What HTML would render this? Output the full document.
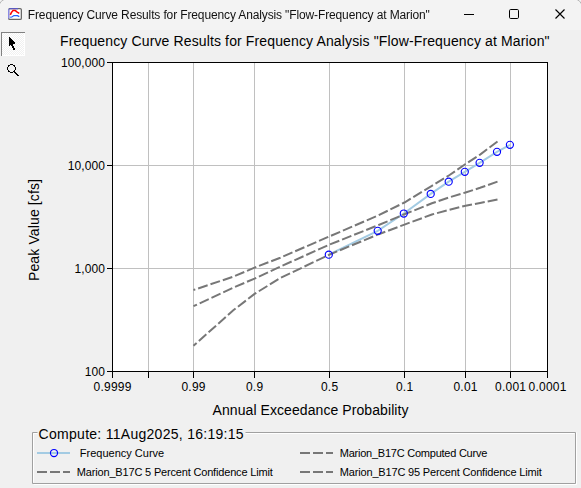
<!DOCTYPE html>
<html><head><meta charset="utf-8"><style>
html,body{margin:0;padding:0;width:581px;height:488px;overflow:hidden;background:#f0f0f0;}
svg{display:block;}
</style></head><body>
<svg width="581" height="488" viewBox="0 0 581 488" shape-rendering="auto">
<defs><filter id="gs" x="0" y="0" width="1" height="1"><feColorMatrix type="identity"/></filter></defs>
<rect x="0" y="0" width="581" height="30" fill="#f3f3f3"/>
<rect x="0" y="30" width="581" height="458" fill="#f0f0f0"/>
<path d="M-1.5,8 A9.5,9.5 0 0 1 8,-1.5" fill="none" stroke="#b4b4b4" stroke-width="1"/>
<path d="M573,-1.5 A9.5,9.5 0 0 1 582.5,8" fill="none" stroke="#b4b4b4" stroke-width="1"/>
<rect x="8.65" y="8.65" width="12.7" height="10.7" rx="1.2" fill="#fff" stroke="#686868" stroke-width="1.3"/>
<path d="M8.65,18.5 L8.65,9.2" fill="none" stroke="#8a8ae6" stroke-width="1.3"/>
<path d="M9.2,8.65 L18,8.65" fill="none" stroke="#5a5ac0" stroke-width="1.3"/>
<polyline points="10.3,14.9 11.6,12.2 13,10.6 15.4,10.6 17.2,12.1 19.3,13.3" fill="none" stroke="#ff0000" stroke-width="1.5" stroke-linejoin="round"/>
<polyline points="10.3,17.4 12.2,16.7 14,15.6 17.4,15.6 19.3,16.6" fill="none" stroke="#2060ff" stroke-width="1.2" stroke-linejoin="round"/>
<text x="27.8" y="18.5" font-family='"Liberation Sans", sans-serif' font-size="12" fill="#111" filter="url(#gs)" textLength="402" lengthAdjust="spacing">Frequency Curve Results for Frequency Analysis "Flow-Frequency at Marion"</text>
<rect x="464" y="14" width="10" height="1" fill="#000"/>
<rect x="509.5" y="9.5" width="9" height="9" rx="1.2" fill="none" stroke="#000" stroke-width="1"/>
<path d="M555.5,9.5 L564.5,18.5 M564.5,9.5 L555.5,18.5" stroke="#000" stroke-width="1.15" fill="none"/>
<defs><pattern id="dith" width="2" height="2" patternUnits="userSpaceOnUse"><rect width="2" height="2" fill="#f0f0f0"/><rect width="1" height="1" fill="#ffffff"/><rect x="1" y="1" width="1" height="1" fill="#ffffff"/></pattern></defs>
<rect x="1" y="32" width="24" height="24" fill="url(#dith)"/>
<rect x="1" y="32" width="24" height="1" fill="#808080"/>
<rect x="1" y="32" width="1" height="24" fill="#808080"/>
<rect x="24" y="33" width="1" height="23" fill="#ffffff"/>
<rect x="2" y="55" width="23" height="1" fill="#ffffff"/>
<g fill="#000" shape-rendering="crispEdges"><rect x="9" y="37" width="1" height="1"/><rect x="9" y="38" width="2" height="1"/><rect x="9" y="39" width="3" height="1"/><rect x="9" y="40" width="4" height="1"/><rect x="9" y="41" width="5" height="1"/><rect x="9" y="42" width="6" height="1"/><rect x="9" y="43" width="6" height="1"/><rect x="9" y="44" width="4" height="1"/><rect x="9" y="45" width="1" height="1"/><rect x="11" y="45" width="2" height="1"/><rect x="12" y="46" width="2" height="1"/><rect x="12" y="47" width="2" height="1"/><rect x="13" y="48" width="2" height="1"/><rect x="13" y="49" width="2" height="1"/></g>
<g fill="#000" shape-rendering="crispEdges"><rect x="10" y="64" width="3" height="1"/><rect x="8" y="65" width="2" height="1"/><rect x="13" y="65" width="2" height="1"/><rect x="8" y="66" width="1" height="1"/><rect x="14" y="66" width="1" height="1"/><rect x="7" y="67" width="1" height="1"/><rect x="15" y="67" width="1" height="1"/><rect x="7" y="68" width="1" height="1"/><rect x="15" y="68" width="1" height="1"/><rect x="7" y="69" width="1" height="1"/><rect x="15" y="69" width="1" height="1"/><rect x="8" y="70" width="1" height="1"/><rect x="14" y="70" width="1" height="1"/><rect x="8" y="71" width="2" height="1"/><rect x="13" y="71" width="2" height="1"/><rect x="10" y="72" width="3" height="1"/><rect x="14" y="72" width="2" height="1"/><rect x="15" y="73" width="2" height="1"/><rect x="16" y="74" width="2" height="1"/><rect x="17" y="75" width="2" height="1"/></g>
<text x="60.1" y="46" font-family='"Liberation Sans", sans-serif' font-size="14" fill="#000" textLength="489.5" lengthAdjust="spacing">Frequency Curve Results for Frequency Analysis "Flow-Frequency at Marion"</text>
<rect x="112" y="62" width="435" height="309" fill="#fff"/>
<rect x="148" y="63" width="1" height="308" fill="#c0c0c0"/>
<rect x="193" y="63" width="1" height="308" fill="#c0c0c0"/>
<rect x="254" y="63" width="1" height="308" fill="#c0c0c0"/>
<rect x="329" y="63" width="1" height="308" fill="#c0c0c0"/>
<rect x="404" y="63" width="1" height="308" fill="#c0c0c0"/>
<rect x="465" y="63" width="1" height="308" fill="#c0c0c0"/>
<rect x="510" y="63" width="1" height="308" fill="#c0c0c0"/>
<rect x="113" y="165" width="434" height="1" fill="#c0c0c0"/>
<rect x="113" y="268" width="434" height="1" fill="#c0c0c0"/>
<clipPath id="pc"><rect x="113" y="63" width="434" height="308"/></clipPath>
<g clip-path="url(#pc)">
<polyline points="328.80,254.70 377.70,230.80 403.80,213.50 430.70,193.90 448.70,181.70 464.80,171.80 479.60,162.80 497.00,151.80 509.90,144.80" fill="none" stroke="#a3cbe3" stroke-width="2"/>
<polyline points="497.50,141.50 480.10,154.60 465.55,164.00 449.60,175.00 431.90,185.80 404.45,202.50 378.70,215.20 329.50,236.40 280.30,257.70 254.55,267.60 233.30,276.70 193.45,290.00" fill="none" stroke="#777" stroke-width="2" stroke-dasharray="10 3"/>
<polyline points="497.50,181.60 480.10,187.80 465.55,192.50 449.60,197.30 431.90,203.30 404.45,214.30 378.70,225.00 329.50,244.60 280.30,266.60 254.55,278.60 233.30,287.60 193.45,306.20" fill="none" stroke="#777" stroke-width="2" stroke-dasharray="10 3"/>
<polyline points="497.50,199.60 480.10,203.00 465.55,205.70 449.60,209.80 431.90,214.50 404.45,224.60 378.70,234.20 329.50,254.60 280.30,278.00 254.55,293.90 233.30,310.30 193.45,345.80" fill="none" stroke="#777" stroke-width="2" stroke-dasharray="10 3"/>
<circle cx="328.8" cy="254.7" r="3.55" fill="none" stroke="#0000ff" stroke-width="1.15"/>
<circle cx="377.7" cy="230.8" r="3.55" fill="none" stroke="#0000ff" stroke-width="1.15"/>
<circle cx="403.8" cy="213.5" r="3.55" fill="none" stroke="#0000ff" stroke-width="1.15"/>
<circle cx="430.7" cy="193.9" r="3.55" fill="none" stroke="#0000ff" stroke-width="1.15"/>
<circle cx="448.7" cy="181.7" r="3.55" fill="none" stroke="#0000ff" stroke-width="1.15"/>
<circle cx="464.8" cy="171.8" r="3.55" fill="none" stroke="#0000ff" stroke-width="1.15"/>
<circle cx="479.6" cy="162.8" r="3.55" fill="none" stroke="#0000ff" stroke-width="1.15"/>
<circle cx="497.0" cy="151.8" r="3.55" fill="none" stroke="#0000ff" stroke-width="1.15"/>
<circle cx="509.9" cy="144.8" r="3.55" fill="none" stroke="#0000ff" stroke-width="1.15"/>
</g>
<rect x="112" y="62" width="436" height="1" fill="#000"/>
<rect x="112" y="371" width="436" height="1" fill="#000"/>
<rect x="112" y="62" width="1" height="310" fill="#000"/>
<rect x="547" y="62" width="1" height="310" fill="#000"/>
<rect x="107" y="62" width="5" height="1" fill="#000"/>
<rect x="107" y="165" width="5" height="1" fill="#000"/>
<rect x="107" y="268" width="5" height="1" fill="#000"/>
<rect x="107" y="371" width="5" height="1" fill="#000"/>
<rect x="112" y="372" width="1" height="6" fill="#000"/>
<rect x="148" y="372" width="1" height="6" fill="#000"/>
<rect x="193" y="372" width="1" height="6" fill="#000"/>
<rect x="254" y="372" width="1" height="6" fill="#000"/>
<rect x="329" y="372" width="1" height="6" fill="#000"/>
<rect x="404" y="372" width="1" height="6" fill="#000"/>
<rect x="465" y="372" width="1" height="6" fill="#000"/>
<rect x="510" y="372" width="1" height="6" fill="#000"/>
<rect x="547" y="372" width="1" height="6" fill="#000"/>
<text x="105.1" y="67.0" text-anchor="end" font-family='"Liberation Sans", sans-serif' font-size="12" letter-spacing="0.12" fill="#000">100,000</text>
<text x="105.1" y="170.0" text-anchor="end" font-family='"Liberation Sans", sans-serif' font-size="12" letter-spacing="0.12" fill="#000">10,000</text>
<text x="105.1" y="273.0" text-anchor="end" font-family='"Liberation Sans", sans-serif' font-size="12" letter-spacing="0.12" fill="#000">1,000</text>
<text x="105.1" y="376.0" text-anchor="end" font-family='"Liberation Sans", sans-serif' font-size="12" letter-spacing="0.12" fill="#000">100</text>
<text x="112.6" y="391.1" text-anchor="middle" font-family='"Liberation Sans", sans-serif' font-size="12" letter-spacing="0.25" fill="#000">0.9999</text>
<text x="193.6" y="391.1" text-anchor="middle" font-family='"Liberation Sans", sans-serif' font-size="12" letter-spacing="0.25" fill="#000">0.99</text>
<text x="254.6" y="391.1" text-anchor="middle" font-family='"Liberation Sans", sans-serif' font-size="12" letter-spacing="0.25" fill="#000">0.9</text>
<text x="329.6" y="391.1" text-anchor="middle" font-family='"Liberation Sans", sans-serif' font-size="12" letter-spacing="0.25" fill="#000">0.5</text>
<text x="404.6" y="391.1" text-anchor="middle" font-family='"Liberation Sans", sans-serif' font-size="12" letter-spacing="0.25" fill="#000">0.1</text>
<text x="465.6" y="391.1" text-anchor="middle" font-family='"Liberation Sans", sans-serif' font-size="12" letter-spacing="0.25" fill="#000">0.01</text>
<text x="510.6" y="391.1" text-anchor="middle" font-family='"Liberation Sans", sans-serif' font-size="12" letter-spacing="0.25" fill="#000">0.001</text>
<text x="547.6" y="391.1" text-anchor="middle" font-family='"Liberation Sans", sans-serif' font-size="12" letter-spacing="0.25" fill="#000">0.0001</text>
<text x="212.5" y="414.5" font-family='"Liberation Sans", sans-serif' font-size="14" fill="#000" textLength="196" lengthAdjust="spacing">Annual Exceedance Probability</text>
<text transform="translate(39.2,281) rotate(-90)" x="0" y="0" font-family='"Liberation Sans", sans-serif' font-size="14" fill="#000" textLength="102" lengthAdjust="spacing">Peak Value [cfs]</text>
<path d="M37.5,432.5 L32.5,432.5 L32.5,483.5 L575.5,483.5 L575.5,432.5 L245.5,432.5" fill="none" stroke="#a0a0a0" stroke-width="1"/>
<path d="M37.5,433.5 L33.5,433.5 L33.5,482.5 M33.5,484.5 L576.5,484.5 L576.5,432.5 M574.5,433.5 L245.5,433.5" fill="none" stroke="#fff" stroke-width="1"/>
<text x="38.6" y="438.5" font-family='"Liberation Sans", sans-serif' font-size="14" fill="#000" textLength="205" lengthAdjust="spacing">Compute: 11Aug2025, 16:19:15</text>
<rect x="37" y="452" width="33" height="2" fill="#a3cbe3"/>
<circle cx="54" cy="453" r="3.55" fill="none" stroke="#0000ff" stroke-width="1.15"/>
<path d="M37,472 L70,472" stroke="#777" stroke-width="2" stroke-dasharray="10 3"/>
<path d="M300,453 L333,453" stroke="#777" stroke-width="2" stroke-dasharray="10 3"/>
<path d="M300,472 L333,472" stroke="#777" stroke-width="2" stroke-dasharray="10 3"/>
<text x="79.8" y="457" font-family='"Liberation Sans", sans-serif' font-size="11" fill="#000">Frequency Curve</text>
<text x="76.8" y="476" font-family='"Liberation Sans", sans-serif' font-size="11" fill="#000" textLength="196" lengthAdjust="spacing">Marion_B17C 5 Percent Confidence Limit</text>
<text x="339.8" y="457" font-family='"Liberation Sans", sans-serif' font-size="11" fill="#000" textLength="147.5" lengthAdjust="spacing">Marion_B17C Computed Curve</text>
<text x="339.8" y="476" font-family='"Liberation Sans", sans-serif' font-size="11" fill="#000" textLength="202" lengthAdjust="spacing">Marion_B17C 95 Percent Confidence Limit</text>
</svg>
</body></html>
